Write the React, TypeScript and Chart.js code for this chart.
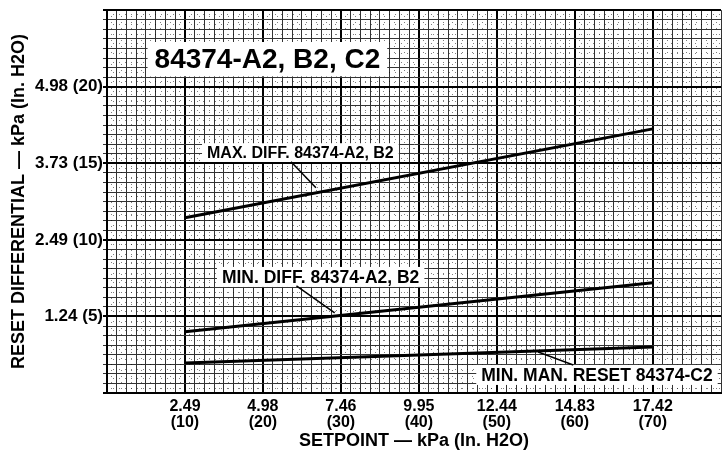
import React, { useEffect, useRef } from 'react';
import { Chart, registerables } from 'chart.js';

Chart.register(...registerables);

// ---- data (setpoint and differential in inches H2O) ----
const setpointInH2O = [10, 70];
const maxDiff = [11.45, 17.25];
const minDiff = [4.0, 7.2];
const minManReset = [1.96, 3.0];

// ---- tick labels ----
const xTickValues = [10, 20, 30, 40, 50, 60, 70];
const xTickKpa = ['2.49', '4.98', '7.46', '9.95', '12.44', '14.83', '17.42'];
const yTickValues = [5, 10, 15, 20];
const yTickKpa = ['1.24', '2.49', '3.73', '4.98'];

// ---- texts ----
const chartTitle = '84374-A2, B2, C2';
const seriesLabels = ['MAX. DIFF. 84374-A2, B2', 'MIN. DIFF. 84374-A2, B2', 'MIN. MAN. RESET 84374-C2'];
const xAxisTitle = 'SETPOINT — kPa (In. H2O)';
const yAxisTitle = 'RESET DIFFERENTIAL — kPa (In. H2O)';

// ---- layout of annotations (data units) ----
const titleAnchor = { x: 6.1, y: 21.8 };
const labelAnchors = [
  { x: 12.83, y: 15.7 },
  { x: 14.74, y: 7.58 },
  { x: 48.0, y: 1.18 },
];
const labelSizes = [16, 17.5, 17.5];
const leaderLines = [
  [23.6, 15.1, 26.8, 13.4],
  [24.3, 6.99, 29.2, 5.23],
  [59.8, 1.83, 55.3, 2.68],
];

const FONT = "'Liberation Sans', Arial, Helvetica, sans-serif";

const near = (a: number, b: number) => Math.abs(a - b) < 1e-6;
const isMult = (v: number, m: number) => near(v / m, Math.round(v / m));

const annotationPlugin = {
  id: 'annotations',
  afterDatasetsDraw(chart: any) {
    const { ctx } = chart;
    const xs = chart.scales.x;
    const ys = chart.scales.y;
    ctx.save();
    const drawLabel = (text: string, px: number, py: number, size: number, padX: number, padY: number) => {
      ctx.font = `bold ${size}px ${FONT}`;
      const w = ctx.measureText(text).width;
      const h = size * 0.8;
      ctx.fillStyle = '#fff';
      ctx.fillRect(px - padX, py - h / 2 - padY, w + 2 * padX, h + 2 * padY);
      ctx.fillStyle = '#000';
      ctx.textBaseline = 'middle';
      ctx.textAlign = 'left';
      ctx.fillText(text, px, py + 1);
    };
    drawLabel(chartTitle, xs.getPixelForValue(titleAnchor.x), ys.getPixelForValue(titleAnchor.y), 28, 7, 6);
    seriesLabels.forEach((t, i) => {
      drawLabel(t, xs.getPixelForValue(labelAnchors[i].x), ys.getPixelForValue(labelAnchors[i].y), labelSizes[i], 5, 3);
    });
    ctx.strokeStyle = '#000';
    ctx.lineWidth = 1.5;
    leaderLines.forEach(([x1, y1, x2, y2]) => {
      ctx.beginPath();
      ctx.moveTo(xs.getPixelForValue(x1), ys.getPixelForValue(y1));
      ctx.lineTo(xs.getPixelForValue(x2), ys.getPixelForValue(y2));
      ctx.stroke();
    });
    ctx.restore();
  },
};

export default function App() {
  const ref = useRef<HTMLCanvasElement | null>(null);
  useEffect(() => {
    document.body.style.margin = '0';
    const canvas = ref.current;
    if (!canvas) return;
    const mk = (ys: number[]) => setpointInH2O.map((x, i) => ({ x, y: ys[i] }));
    const lineStyle = { borderColor: '#000', borderWidth: 3, pointRadius: 0, fill: false, tension: 0 };
    const chart = new Chart(canvas, {
      type: 'line',
      data: {
        datasets: [
          { label: seriesLabels[0], data: mk(maxDiff), ...lineStyle },
          { label: seriesLabels[1], data: mk(minDiff), ...lineStyle },
          { label: seriesLabels[2], data: mk(minManReset), ...lineStyle },
        ],
      },
      options: {
        animation: false,
        responsive: false,
        devicePixelRatio: 1,
        layout: { padding: { top: 9, left: 0, right: 0, bottom: 0 } },
        plugins: { legend: { display: false }, tooltip: { enabled: false } },
        scales: {
          x: {
            type: 'linear',
            position: 'bottom',
            min: 0,
            max: 78.75,
            afterFit: (s: any) => { s.height = 61; },
            ticks: {
              stepSize: 1.25,
              autoSkip: false,
              maxRotation: 0,
              padding: 6,
              color: '#000',
              font: { family: FONT, size: 16, weight: 'bold', lineHeight: 1.0 },
              callback: (v: any) => {
                const i = xTickValues.findIndex((t) => near(t, Number(v)));
                return i >= 0 ? [xTickKpa[i], `(${xTickValues[i]})`] : '';
              },
            },
            grid: {
              drawTicks: false,
              color: (c: any) => (c.tick && isMult(c.tick.value, 10) ? '#000' : '#333'),
              lineWidth: (c: any) => (c.tick && isMult(c.tick.value, 10) ? 2 : 1),
            },
            border: { color: '#000', width: 2 },
            title: {
              display: true,
              text: xAxisTitle,
              color: '#000',
              font: { family: FONT, size: 18, weight: 'bold' },
              padding: { top: 0, bottom: 2 },
            },
          },
          y: {
            type: 'linear',
            position: 'left',
            min: 0,
            max: 25,
            afterFit: (s: any) => { s.width = 107; },
            ticks: {
              stepSize: 0.625,
              autoSkip: false,
              padding: 0,
              color: '#000',
              font: { family: FONT, size: 17, weight: 'bold' },
              callback: (v: any) => {
                const i = yTickValues.findIndex((t) => near(t, Number(v)));
                return i >= 0 ? `${yTickKpa[i]} (${yTickValues[i]})` : '';
              },
            },
            grid: {
              drawTicks: true,
              tickLength: 4,
              color: (c: any) => (c.tick && isMult(c.tick.value, 5) ? '#000' : '#333'),
              lineWidth: (c: any) => (c.tick && isMult(c.tick.value, 5) ? 2 : 1),
            },
            border: { color: '#000', width: 2 },
            title: {
              display: true,
              text: yAxisTitle,
              color: '#000',
              font: { family: FONT, size: 18, weight: 'bold' },
              padding: { top: 8, bottom: 0 },
            },
          },
          xDots: {
            type: 'linear',
            position: 'top',
            display: true,
            min: 0,
            max: 78.75,
            ticks: { display: false, stepSize: 0.625, autoSkip: false },
            grid: {
              drawTicks: false,
              color: (c: any) => (c.index % 2 === 1 ? 'rgba(0,0,0,0.5)' : 'rgba(0,0,0,0)'),
              lineWidth: 1,
            },
            border: { display: false, dash: [1, 5] },
          },
          yDots: {
            type: 'linear',
            position: 'right',
            display: true,
            min: 0,
            max: 25,
            ticks: { display: false, stepSize: 0.3125, autoSkip: false },
            grid: {
              drawTicks: false,
              color: (c: any) => (c.index % 2 === 1 ? 'rgba(0,0,0,0.5)' : 'rgba(0,0,0,0)'),
              lineWidth: 1,
            },
            border: { display: false, dash: [1, 5] },
          },
        },
      } as any,
      plugins: [annotationPlugin],
    });
    return () => chart.destroy();
  }, []);
  return <canvas ref={ref} width={727} height={454} style={{ display: 'block' }} />;
}
